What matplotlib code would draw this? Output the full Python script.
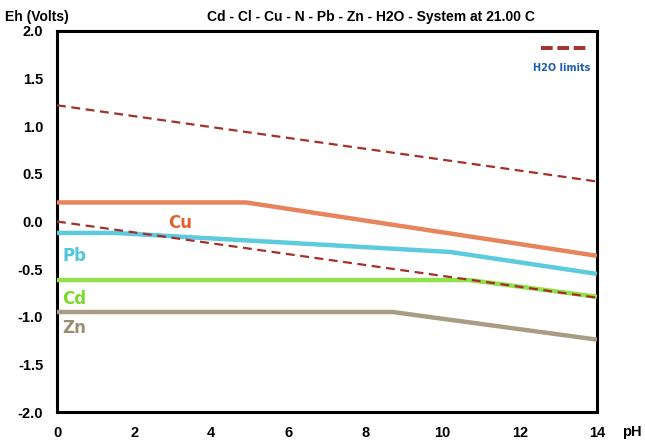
import matplotlib
matplotlib.use("Agg")
import matplotlib.pyplot as plt
from matplotlib import font_manager

names = {f.name for f in font_manager.fontManager.ttflist}
narrow = "Liberation Sans Narrow" if "Liberation Sans Narrow" in names else "Liberation Sans"

# Data
cu_ph = [0, 4.9, 14]
cu_eh = [0.20, 0.20, -0.36]
pb_ph = [0, 1.5, 10.2, 14]
pb_eh = [-0.12, -0.12, -0.32, -0.55]
cd_ph = [0, 10.7, 14]
cd_eh = [-0.615, -0.615, -0.79]
zn_ph = [0, 8.7, 14]
zn_eh = [-0.95, -0.95, -1.24]
h2o_upper_ph = [0, 14]
h2o_upper_eh = [1.22, 0.42]
h2o_lower_ph = [0, 14]
h2o_lower_eh = [0.0, -0.80]
xticks = [0, 2, 4, 6, 8, 10, 12, 14]
yticks = [2.0, 1.5, 1.0, 0.5, 0.0, -0.5, -1.0, -1.5, -2.0]

fig = plt.figure(figsize=(6.45, 4.40), dpi=100)
ax = fig.add_axes([0.0884, 0.0636, 0.837, 0.866])

ax.plot(cu_ph, cu_eh, color="#E8845C", lw=3.2, solid_capstyle="butt", zorder=3)
ax.plot(pb_ph, pb_eh, color="#5BCBDD", lw=3.2, solid_capstyle="butt", zorder=3)
ax.plot(cd_ph, cd_eh, color="#92E04A", lw=3.2, solid_capstyle="butt", zorder=3)
ax.plot(zn_ph, zn_eh, color="#AA9C84", lw=3.2, solid_capstyle="butt", zorder=3)
ax.plot(h2o_upper_ph, h2o_upper_eh, color="#A3302A", lw=1.6, ls=(0, (4, 2.5)), zorder=4)
ax.plot(h2o_lower_ph, h2o_lower_eh, color="#A3302A", lw=1.6, ls=(0, (4, 2.5)), zorder=4)

ax.set_xlim(0, 14)
ax.set_ylim(-2.0, 2.0)
ax.set_xticks(xticks)
ax.set_yticks(yticks)
ax.set_xticklabels([str(t) for t in xticks], family=narrow, fontweight="bold", fontsize=10.5)
ax.set_yticklabels([f"{t:.1f}" for t in yticks], family=narrow, fontweight="bold", fontsize=10.5)
ax.tick_params(length=0, pad=10)
for s in ax.spines.values():
    s.set_linewidth(2.2)

lab = dict(fontsize=12, fontweight="bold", family="DejaVu Sans")
ax.text(3.2, -0.02, "Cu", color="#E0622E", ha="center", va="center", **lab)
ax.text(0.45, -0.36, "Pb", color="#4EC6DC", ha="center", va="center", **lab)
ax.text(0.45, -0.81, "Cd", color="#7CD82A", ha="center", va="center", **lab)
ax.text(0.45, -1.12, "Zn", color="#9C8C74", ha="center", va="center", **lab)

# legend
ax.plot([12.55, 13.75], [1.82, 1.82], color="#A3302A", lw=2.8, ls=(0, (3, 1.2)), zorder=4)
ax.text(13.1, 1.61, "H2O limits", color="#1F5DAF", fontsize=7, fontweight="bold",
        ha="center", va="center", family="DejaVu Sans")

fig.text(0.008, 0.962, "Eh (Volts)", family=narrow, fontweight="bold", fontsize=10, ha="left", va="center")
fig.text(0.575, 0.962, "Cd - Cl - Cu - N - Pb - Zn - H2O - System at 21.00 C", family=narrow,
         fontweight="bold", fontsize=10, ha="center", va="center")
fig.text(0.98, 0.018, "pH", family=narrow, fontweight="bold", fontsize=10.5, ha="center", va="center")

fig.savefig("out.png", dpi=100)
